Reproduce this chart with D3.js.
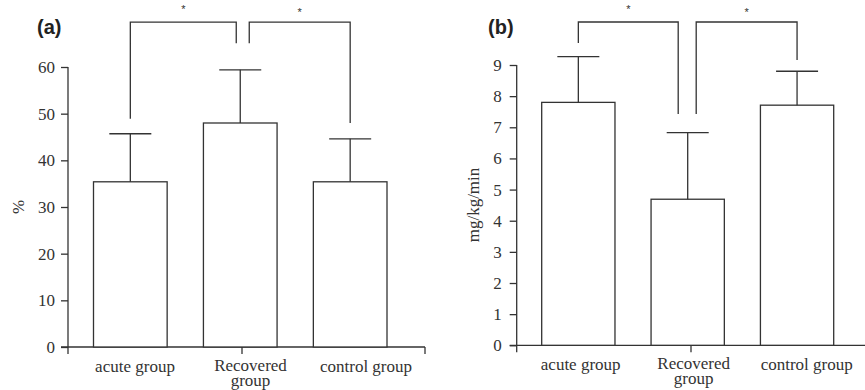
<!DOCTYPE html>
<html>
<head>
<meta charset="utf-8">
<script src="https://cdn.jsdelivr.net/npm/d3@7"></script>
<style>
  body { margin: 0; background: #fff; }
  svg text { fill: #333; }
</style>
</head>
<body>
<div id="chart"></div>
<script>

// categories shared by both panels
var categories = ["acute group", "Recovered group", "control group"]

// (a) percent
var pctMean = [35.4, 48.0, 35.4]
var pctSD = [10.3, 11.4, 9.2]
var pctTicks = [0, 10, 20, 30, 40, 50, 60]

// (b) mg/kg/min
var rateMean = [7.80, 4.69, 7.71]
var rateSD = [1.47, 2.14, 1.09]
var rateTicks = [0, 1, 2, 3, 4, 5, 6, 7, 8, 9]

// significance brackets: pair of bars, top of bracket, leg bottoms (data units)
var pctBrackets = [
    {a: 0, b: 1, top: 69.6, legA: 48.9, legB: 65.1},
    {a: 1, b: 2, top: 69.6, legA: 65.1, legB: 48.0}
]
var rateBrackets = [
    {a: 0, b: 1, top: 10.38, legA: 9.71, legB: 7.43},
    {a: 1, b: 2, top: 10.38, legA: 7.43, legB: 9.16}
]

var STROKE = "#333"
var SERIF = "'Liberation Serif', 'Times New Roman', serif"
var SANS = "'Liberation Sans', Arial, sans-serif"

var svg = d3.select("#chart").append("svg")
    .attr("width", 865)
    .attr("height", 390)

function drawPanel (p) {
    var g = svg.append("g")

    var y = d3.scaleLinear()
        .domain(p.yDomain)
        .range([p.y0, p.y1])

    var x = d3.scaleBand()
        .domain(categories)
        .range(p.barRange)
        .paddingInner(0.33)
        .paddingOuter(0)

    var xl = d3.scalePoint()
        .domain(categories)
        .range(p.labelRange)

    // y axis
    var yAxis = d3.axisLeft(y)
        .tickValues(p.ticks)
        .tickSize(7)
        .tickSizeOuter(0)
        .tickPadding(p.tickPad)

    var ga = g.append("g")
        .attr("transform", "translate(" + p.axisX + ",0)")
        .call(yAxis)
        .attr("font-family", null)
        .attr("font-size", null)
    ga.select(".domain").remove()
    ga.selectAll("line").attr("stroke", STROKE).attr("stroke-width", 1.3)
    ga.selectAll("text")
        .style("font-family", SERIF)
        .style("font-size", "17px")
        .style("fill", "#333")

    g.append("line")
        .attr("x1", p.axisX).attr("x2", p.axisX)
        .attr("y1", y(p.yDomain[1])).attr("y2", p.y0 + 7)
        .attr("stroke", STROKE).attr("stroke-width", 1.3)

    // x axis line
    g.append("line")
        .attr("x1", p.axisX - 7).attr("x2", p.xEnd)
        .attr("y1", p.y0).attr("y2", p.y0)
        .attr("stroke", STROKE).attr("stroke-width", 1.3)

    p.xTicks.forEach(function (tx) {
        g.append("line")
            .attr("x1", tx).attr("x2", tx)
            .attr("y1", p.y0).attr("y2", p.y0 + 7)
            .attr("stroke", STROKE).attr("stroke-width", 1.3)
    })

    // bars
    g.append("g").selectAll("rect")
        .data(p.mean)
        .enter().append("rect")
        .attr("x", function (d, i) { return x(categories[i]) })
        .attr("y", function (d) { return y(d) })
        .attr("width", x.bandwidth())
        .attr("height", function (d) { return y(0) - y(d) })
        .attr("fill", "#fff")
        .attr("stroke", STROKE)
        .attr("stroke-width", 1.3)

    // error bars (upper only)
    var cx = function (i) { return x(categories[i]) + x.bandwidth() / 2 }
    var eb = g.append("g")
    p.mean.forEach(function (m, i) {
        eb.append("line")
            .attr("x1", cx(i)).attr("x2", cx(i))
            .attr("y1", y(m)).attr("y2", y(m + p.sd[i]))
            .attr("stroke", STROKE).attr("stroke-width", 1.3)
        eb.append("line")
            .attr("x1", cx(i) - 21).attr("x2", cx(i) + 21)
            .attr("y1", y(m + p.sd[i])).attr("y2", y(m + p.sd[i]))
            .attr("stroke", STROKE).attr("stroke-width", 1.3)
    })

    // brackets
    p.brackets.forEach(function (b, k) {
        var xa = cx(b.a) + (k === 1 ? p.midOffset[1] : 0)
        var xb = cx(b.b) + (k === 0 ? p.midOffset[0] : 0)
        g.append("path")
            .attr("d", "M" + xa + "," + y(b.legA) + "V" + y(b.top) + "H" + xb + "V" + y(b.legB))
            .attr("fill", "none")
            .attr("stroke", STROKE)
            .attr("stroke-width", 1.3)
        g.append("text")
            .attr("x", (xa + xb) / 2)
            .attr("y", y(b.top) - 9 + (k === 1 ? 3 : 0))
            .attr("text-anchor", "middle")
            .style("font-family", SANS)
            .style("font-size", "11px")
            .text("*")
    })

    // category labels, "Recovered group" on two lines
    categories.forEach(function (c, i) {
        var t = g.append("text")
            .attr("x", xl(c))
            .attr("y", p.y0 + 25)
            .attr("text-anchor", "middle")
            .style("font-family", SERIF)
            .style("font-size", "17px")
        if (c === "Recovered group") {
            t.attr("y", p.y0 + 24)
            t.append("tspan").attr("x", xl(c)).text("Recovered")
            t.append("tspan").attr("x", xl(c)).attr("dy", 15).text("group")
        } else {
            t.text(c)
        }
    })

    // y label
    g.append("text")
        .attr("transform", "translate(" + p.yLabelX + "," + p.yLabelY + ") rotate(-90)")
        .attr("text-anchor", "middle")
        .attr("dy", "0.35em")
        .style("font-family", SERIF)
        .style("font-size", "17px")
        .text(p.yLabel)

    // panel letter
    g.append("text")
        .attr("x", p.letterX)
        .attr("y", 34)
        .style("font-family", SANS)
        .style("font-weight", "bold")
        .style("font-size", "20px")
        .style("fill", "#222")
        .text(p.letter)
}

drawPanel({
    letter: "(a)", letterX: 37,
    yDomain: [0, 60], y0: 347, y1: 67,
    ticks: pctTicks, tickPad: 6,
    axisX: 68, xEnd: 425, xTicks: [242, 425],
    barRange: [93.5, 387], labelRange: [135, 366],
    mean: pctMean, sd: pctSD, brackets: pctBrackets,
    midOffset: [-4, 9],
    yLabel: "%", yLabelX: 18, yLabelY: 207
})

drawPanel({
    letter: "(b)", letterX: 488,
    yDomain: [0, 9], y0: 345.3, y1: 65,
    ticks: rateTicks, tickPad: 8,
    axisX: 516.7, xEnd: 866, xTicks: [691],
    barRange: [541.7, 833.7], labelRange: [580.7, 806.7],
    mean: rateMean, sd: rateSD, brackets: rateBrackets,
    midOffset: [-9.5, 8.5],
    yLabel: "mg/kg/min", yLabelX: 473, yLabelY: 205
})

</script>
</body>
</html>
